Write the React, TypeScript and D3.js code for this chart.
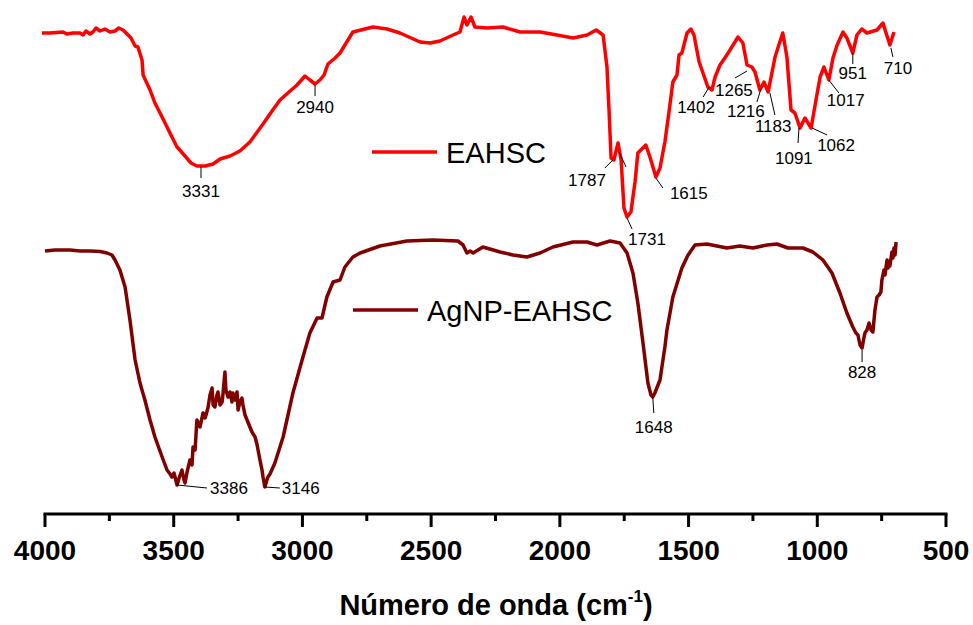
import React from "react";
import * as d3 from "d3";

// ---------- data (wavenumber cm^-1, relative transmittance) ----------
const eahscWn = [4012,3981,3930,3915,3891,3864,3852,3841,3825,3814,3802,3786,3767,3748,3728,3713,3697,3681,3666,3650,3639,3623,3619,3592,3573,3553,3526,3507,3487,3456,3433,3410,3378,3347,3320,3281,3243,3204,3153,3118,3087,3048,3021,2990,2971,2951,2932,2916,2901,2873,2854,2835,2804,2726,2671,2621,2543,2504,2466,2415,2388,2372,2361,2345,2330,2283,2221,2155,2077,2011,1949,1894,1859,1832,1817,1809,1801,1790,1774,1762,1751,1739,1724,1708,1697,1666,1650,1627,1611,1592,1576,1561,1545,1537,1526,1506,1491,1479,1459,1444,1425,1409,1397,1378,1359,1339,1308,1289,1273,1254,1242,1223,1207,1191,1164,1153,1134,1118,1102,1087,1067,1048,1024,1005,989,974,955,939,923,900,885,862,846,827,807,768,745,718,702];
const eahscT = [97.4,97.4,97.6,97.2,97.4,97.4,97.0,97.8,97.2,97.6,98.4,97.8,98.2,97.6,97.8,98.4,98.0,97.2,96.4,94.8,94.6,92.0,89.0,86.0,83.4,81.4,78.6,76.6,74.6,72.8,71.4,70.8,70.8,71.2,72.2,72.8,73.8,75.6,79.2,81.8,84.0,85.8,87.0,88.8,88.0,87.2,88.0,89.0,91.2,92.4,93.4,95.0,97.6,98.6,98.2,97.4,95.6,95.4,95.8,97.0,97.6,100.6,99.0,100.6,98.6,98.4,98.6,97.6,97.6,97.0,96.4,97.0,98.0,97.0,90.6,82.0,72.4,72.0,75.4,72.0,62.4,60.6,61.6,67.6,73.4,75.0,72.6,68.6,70.4,75.6,81.6,87.6,89.0,93.0,93.4,97.4,98.2,97.0,91.6,89.4,86.6,86.0,88.6,91.0,92.4,94.0,96.6,95.4,91.0,90.6,89.6,86.0,87.6,85.6,92.6,94.4,97.4,92.6,82.0,81.4,78.4,80.4,78.4,84.0,88.6,90.6,88.0,92.4,95.0,97.6,96.4,93.4,97.0,98.2,97.4,98.0,99.4,95.0,97.6];

const agnpWn = [4000,3961,3903,3864,3825,3786,3759,3740,3728,3709,3689,3670,3650,3631,3612,3592,3573,3545,3526,3514,3507,3499,3487,3479,3468,3460,3456,3448,3437,3429,3425,3417,3410,3398,3386,3378,3367,3359,3351,3347,3340,3332,3328,3320,3312,3309,3301,3297,3289,3281,3274,3270,3262,3254,3250,3243,3235,3231,3223,3215,3204,3196,3184,3176,3165,3157,3153,3146,3138,3134,3126,3107,3075,3037,2998,2971,2943,2924,2905,2881,2854,2835,2804,2776,2699,2594,2493,2396,2376,2361,2349,2337,2299,2232,2182,2128,2077,2027,1949,1894,1856,1805,1766,1739,1716,1697,1677,1658,1646,1639,1631,1611,1592,1584,1561,1526,1502,1475,1429,1351,1301,1250,1195,1157,1114,1056,1017,978,943,912,885,862,850,842,834,826,819,815,807,799,791,784,776,768,760,753,749,741,737,729,725,722,718,710,706,702,698,694];
const agnpT = [53.8,54.0,54.0,53.8,53.8,53.7,53.4,53.0,52.0,50.0,46.6,40.0,32.0,27.4,24.0,20.0,16.6,12.6,10.0,9.2,8.6,9.4,7.0,8.4,10.0,8.0,7.4,9.6,12.0,11.0,14.6,14.0,20.0,18.6,21.4,20.4,22.4,25.0,26.4,23.0,22.6,25.0,25.6,23.0,23.6,25.0,29.6,26.0,24.6,25.6,23.6,25.4,24.0,25.6,22.0,23.6,24.4,23.0,21.0,20.0,18.6,17.6,16.6,15.0,12.0,10.0,8.6,6.6,8.0,8.6,9.2,11.4,16.6,25.4,32.6,37.4,40.4,40.4,44.6,47.6,48.0,50.6,52.6,53.4,54.8,55.8,56.0,55.8,55.0,53.4,53.8,53.4,54.6,53.6,53.0,52.6,53.4,54.6,55.6,55.6,55.0,55.8,55.4,53.4,49.4,43.4,35.4,27.4,25.0,24.6,25.4,28.0,34.6,38.0,44.6,50.4,53.0,55.0,55.2,54.4,54.8,54.4,55.0,55.2,54.4,54.4,53.6,52.0,49.4,45.4,41.4,38.6,37.4,37.0,35.0,34.4,36.4,37.4,38.0,39.4,38.0,37.6,42.0,44.6,45.0,45.6,48.0,50.0,49.0,52.0,50.4,51.6,50.8,53.6,52.4,54.4,53.0,55.6];

const seriesNames = ["EAHSC", "AgNP-EAHSC"];
const xTicks = [4000, 3500, 3000, 2500, 2000, 1500, 1000, 500];
const xMinorTicks = [3750, 3250, 2750, 2250, 1750, 1250, 750];

// peak annotations: label, anchor wavenumber, anchor transmittance
const topPeakLabels = ["3331", "2940", "1787", "", "1731", "1615", "1402", "1265", "1216", "1183", "1091", "1062", "1017", "951", "710"];
const topPeakWn = [3394, 2951, 1794, 1770, 1739, 1627, 1420, 1273, 1219, 1184, 1071, 1020, 955, 862, 714];
const topPeakT = [70.6, 87.0, 72.0, 73.6, 60.4, 68.4, 86.6, 89.8, 86.2, 85.4, 78.4, 78.4, 88.0, 93.4, 94.4];
const botPeakLabels = ["3386", "3146", "1648", "828"];
const botPeakWn = [3487, 3146, 1639, 826];
const botPeakT = [7.0, 6.6, 24.6, 34.0];

// ---------- layout (pixels) ----------
// [leader dx, leader dy, label x offset from anchor, label baseline offset, text-anchor]
const topLayout: [number, number, number, number, string][] = [
  [0, 11, 0, 30, "middle"],
  [0, 11, 0, 28, "middle"],
  [-8, 8, -7, 26, "end"],
  [7, 15, 0, 0, "start"],
  [5, 11, 1, 27, "start"],
  [7, 10, 14, 21, "start"],
  [-6, 10, -32, 26, "start"],
  [-12, 7, -32, 25, "start"],
  [-4, 13, -34, 28, "start"],
  [5, 22, -15, 39, "start"],
  [-1, 15, -24, 36, "start"],
  [15, 7, 5, 23, "start"],
  [10, 13, -2, 26, "start"],
  [0, 11, 0, 26, "middle"],
  [2, 9, 7, 26, "middle"],
];
const botLayout: [number, number, number, number, string][] = [
  [30, 3, 33, 9, "start"],
  [15, 1, 17, 7, "start"],
  [1, 16, 1, 36, "middle"],
  [0, 12, 0, 28, "middle"],
];

const W = 973;
const H = 625;
const x0 = 45;
const x1 = 946;
const axisY = 514;

export default function App() {
  const x = d3.scaleLinear().domain([4000, 500]).range([x0, x1]);
  const y = d3.scaleLinear().domain([0, 100]).range([520, 20]);

  const line = d3
    .line<[number, number]>()
    .x((d) => x(d[0]))
    .y((d) => y(d[1]));

  const top: [number, number][] = eahscWn.map((w, i) => [w, eahscT[i]]);
  const bot: [number, number][] = agnpWn.map((w, i) => [w, agnpT[i]]);

  const font = "'Liberation Sans', Arial, sans-serif";

  const renderPeaks = (
    labels: string[],
    wns: number[],
    ts: number[],
    layout: [number, number, number, number, string][],
    key: string
  ) =>
    labels.map((lab, i) => {
      const ax = x(wns[i]);
      const ay = y(ts[i]);
      const [ldx, ldy, tdx, tdy, anchor] = layout[i];
      return (
        <g key={key + i}>
          <line x1={ax} y1={ay} x2={ax + ldx} y2={ay + ldy} stroke="#000" strokeWidth={1} />
          {lab && (
            <text
              x={ax + tdx}
              y={ay + tdy}
              fontSize={17}
              fontFamily={font}
              textAnchor={anchor as any}
              fill="#000"
            >
              {lab}
            </text>
          )}
        </g>
      );
    });

  return (
    <svg
      width={W}
      height={H}
      style={{ position: "fixed", left: 0, top: 0, background: "#fff" }}
    >
      <rect width={W} height={H} fill="#fff" />
      <path d={line(bot) || ""} fill="none" stroke="#800000" strokeWidth={3.5} strokeLinejoin="round" />
      <path d={line(top) || ""} fill="none" stroke="#ff0000" strokeWidth={3.5} strokeLinejoin="round" />

      {renderPeaks(topPeakLabels, topPeakWn, topPeakT, topLayout, "t")}
      {renderPeaks(botPeakLabels, botPeakWn, botPeakT, botLayout, "b")}

      {/* legends */}
      <line x1={372} x2={437} y1={152} y2={152} stroke="#ff0000" strokeWidth={3.5} />
      <text x={446} y={163} fontSize={29} fontFamily={font} fill="#000">
        {seriesNames[0]}
      </text>
      <line x1={353} x2={418} y1={310} y2={310} stroke="#800000" strokeWidth={3.5} />
      <text x={427} y={321} fontSize={29} fontFamily={font} fill="#000">
        {seriesNames[1]}
      </text>

      {/* x axis */}
      <line x1={x0 - 1.5} x2={x1 + 1.5} y1={axisY} y2={axisY} stroke="#000" strokeWidth={3} />
      {xTicks.map((t) => (
        <g key={"M" + t}>
          <line x1={x(t)} x2={x(t)} y1={axisY} y2={axisY + 13} stroke="#000" strokeWidth={3} />
          <text
            x={x(t)}
            y={560}
            fontSize={28}
            fontWeight="bold"
            fontFamily={font}
            textAnchor="middle"
            fill="#000"
          >
            {t}
          </text>
        </g>
      ))}
      {xMinorTicks.map((t) => (
        <line key={"m" + t} x1={x(t)} x2={x(t)} y1={axisY} y2={axisY + 7} stroke="#000" strokeWidth={3} />
      ))}
      <text x={496} y={615} fontSize={29} fontWeight="bold" fontFamily={font} textAnchor="middle" fill="#000">
        Número de onda (cm
        <tspan fontSize={17} dy={-13}>-1</tspan>
        <tspan dy={13}>)</tspan>
      </text>
    </svg>
  );
}
